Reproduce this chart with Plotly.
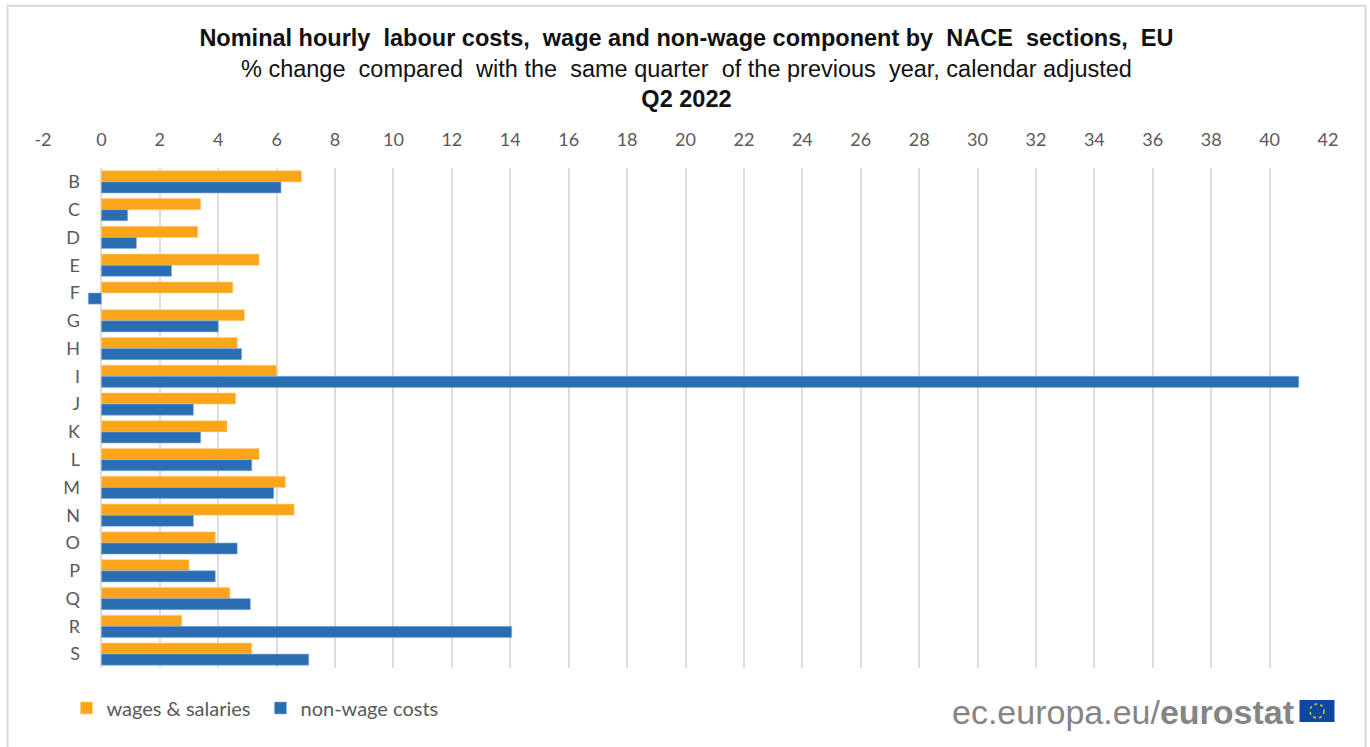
import plotly.graph_objects as go

categories = ["B","C","D","E","F","G","H","I","J","K","L","M","N","O","P","Q","R","S"]
wages = [6.85,3.4,3.3,5.4,4.5,4.9,4.65,6.0,4.6,4.3,5.4,6.3,6.6,3.9,3.0,4.4,2.75,5.15]
non_wage = [6.15,0.9,1.2,2.4,-0.45,4.0,4.8,41.0,3.15,3.4,5.15,5.9,3.15,4.65,3.9,5.1,14.05,7.1]
x_ticks = list(range(-2,43,2))
x_tick_labels = [str(v) for v in x_ticks]
NB = "\u00a0"
title_lines = [f"Nominal hourly {NB}labour costs, {NB}wage and non-wage component by {NB}NACE {NB}sections, {NB}EU",
               f"% change {NB}compared {NB}with the {NB}same quarter {NB}of the previous {NB}year, calendar adjusted",
               "Q2 2022"]

W, H = 1370, 747
L, R, T, B = 42.5, 41.5, 167.5, 79
PW, PH = W-L-R, H-T-B
def px(x): return (x-L)/PW
def py(y): return 1-(y-T)/PH

FONT = "Liberation Sans"
CAL = "Lato, Open Sans, sans-serif"
GREY = "#595959"

fig = go.Figure()
fig.add_bar(y=categories, x=wages, name="wages & salaries", orientation="h",
            marker=dict(color="#FBA51A", line=dict(color="#FDD08A", width=0.6)))
fig.add_bar(y=categories, x=non_wage, name="non-wage costs", orientation="h",
            marker=dict(color="#2A6DB3", line=dict(color="#8FB4DA", width=0.6)))

shapes = [
    dict(type="line", xref="paper", yref="paper", x0=px(7), x1=px(7), y0=py(5), y1=py(747), line=dict(color="#D9D9D9", width=2)),
    dict(type="line", xref="paper", yref="paper", x0=px(6), x1=px(1367), y0=py(5), y1=py(5), line=dict(color="#D9D9D9", width=2)),
    dict(type="line", xref="paper", yref="paper", x0=px(1366), x1=px(1366), y0=py(5), y1=py(747), line=dict(color="#D9D9D9", width=2)),
    dict(type="rect", xref="paper", yref="paper", x0=px(1300), x1=px(1335), y0=py(700), y1=py(722), fillcolor="#0E47A0", line=dict(width=0)),
    dict(type="circle", xref="paper", yref="paper", x0=px(1310.5), x1=px(1324.5), y0=py(704), y1=py(718),
         line=dict(color="#C9C23A", width=1.6, dash="dot")),
]

fig.update_layout(
    width=W, height=H, autosize=False,
    paper_bgcolor="white", plot_bgcolor="white",
    margin=dict(l=L, r=R, t=T, b=B, pad=0),
    barmode="group", bargap=0.2, bargroupgap=0,
    font=dict(family=FONT, color=GREY),
    title=dict(text=f"<b>{title_lines[0]}</b><br>{title_lines[1]}<br><b>{title_lines[2]}</b>",
               x=686/W, xanchor="center", xref="paper", y=1-46/H, yanchor="top",
               font=dict(family=FONT, size=23.5, color="#111111")),
    xaxis=dict(side="top", range=[-2,42], tickvals=x_ticks, ticktext=x_tick_labels, showgrid=True, gridcolor="#DDDDDD", gridwidth=1.7,
               zeroline=True, zerolinecolor="#DDDDDD", zerolinewidth=1.7, showline=False, ticks="",
               tickfont=dict(family=CAL, size=18, color=GREY), ticklabelstandoff=17),
    yaxis=dict(categoryorder="array", categoryarray=categories, autorange="reversed", showgrid=False,
               zeroline=False, ticks="", tickfont=dict(family=CAL, size=18, color=GREY), ticklabelstandoff=-38),
    showlegend=True,
    legend=dict(orientation="h", x=px(66), y=py(708), xanchor="left", yanchor="middle", bgcolor="rgba(0,0,0,0)",
                font=dict(family=CAL, size=20, color=GREY), traceorder="normal", itemwidth=30,
                entrywidth=149, entrywidthmode="pixels"),
    shapes=shapes,
    annotations=[dict(text="ec.europa.eu/<b>eurostat</b>", xref="paper", yref="paper", x=px(1296), y=py(712),
                      xanchor="right", yanchor="middle", showarrow=False,
                      font=dict(family=FONT, size=34, color="#858585"))],
)
fig.write_html("out.html", post_script="document.body.style.margin='0';", config=dict(displayModeBar=False))
